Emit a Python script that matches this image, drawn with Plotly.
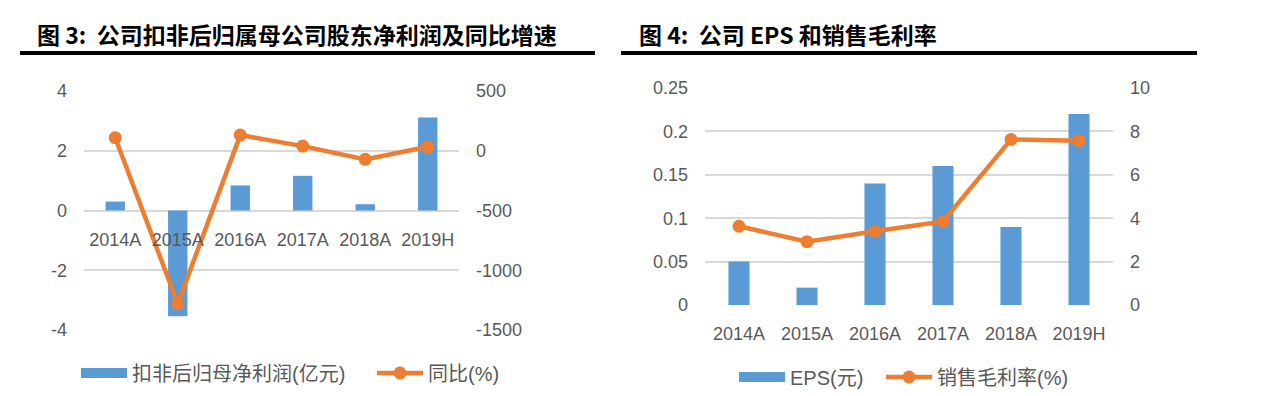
import plotly.graph_objects as go

W, H = 1267, 396
OFF = 8  # page body margin of the browser

# ---------------- data ----------------
categories = ["2014A", "2015A", "2016A", "2017A", "2018A", "2019H"]
profit_yi = [0.30, -3.54, 0.84, 1.16, 0.21, 3.11]          # 扣非后归母净利润(亿元)
profit_yoy = [109, -1281, 131, 39, -72, 33]                  # 同比(%)
eps_yuan = [0.05, 0.02, 0.14, 0.16, 0.09, 0.22]              # EPS(元)
gross_margin = [3.63, 2.92, 3.40, 3.85, 7.63, 7.57]          # 销售毛利率(%)

left_y_ticks = [-4, -2, 0, 2, 4]
left_y_ticktext = ["-4", "-2", "0", "2", "4"]
left_y2_ticks = [-1500, -1000, -500, 0, 500]
left_y2_ticktext = ["-1500", "-1000", "-500", "0", "500"]
right_y_ticks = [0, 0.05, 0.1, 0.15, 0.2, 0.25]
right_y_ticktext = ["0", "0.05", "0.1", "0.15", "0.2", "0.25"]
right_y2_ticks = [0, 2, 4, 6, 8, 10]
right_y2_ticktext = ["0", "2", "4", "6", "8", "10"]

title_left = "图 3:  公司扣非后归属母公司股东净利润及同比增速"
title_right = "图 4:  公司 EPS 和销售毛利率"
name_profit = "扣非后归母净利润(亿元)"
name_yoy = "同比(%)"
name_eps = "EPS(元)"
name_gm = "销售毛利率(%)"

left_y_range = [-4, 4]
left_y2_range = [-1500, 500]
right_y_range = [0, 0.25]
right_y2_range = [0, 10]

# ---------------- styles ----------------
BLUE = "#5B9BD5"
ORANGE = "#ED7D31"
GRID = "#D9D9D9"
TXT = "#595959"
LAT = "Liberation Sans, Arial, sans-serif"
CJK = "Liberation Sans, Noto Sans CJK SC, sans-serif"


def px_x(p):
    return (p - OFF) / W


def px_y(p):
    return 1 - (p - OFF) / H


# plot-area geometry (pixels in the screenshot)
L_X0, L_X1, L_YT, L_YB = 84, 459, 91, 330
R_X0, R_X1, R_YT, R_YB = 705, 1113, 88, 305

left_ydom = [px_y(L_YB), px_y(L_YT)]
right_ydom = [px_y(R_YB), px_y(R_YT)]
# x-axis of left chart sits on the zero line of its bar axis
zero_frac = (0 - left_y_range[0]) / (left_y_range[1] - left_y_range[0])
left_x_pos = left_ydom[0] + zero_frac * (left_ydom[1] - left_ydom[0])

fig = go.Figure()

fig.add_trace(go.Bar(x=categories, y=profit_yi, marker_color=BLUE, name=name_profit,
                     xaxis="x", yaxis="y", showlegend=False))
fig.add_trace(go.Scatter(x=[None], y=[None], mode="lines", name=name_profit,
                         line=dict(color=BLUE, width=10), xaxis="x", yaxis="y", legend="legend"))
fig.add_trace(go.Scatter(x=categories, y=profit_yoy, mode="lines+markers", name=name_yoy,
                         line=dict(color=ORANGE, width=4.5), marker=dict(color=ORANGE, size=13),
                         xaxis="x", yaxis="y2", legend="legend3"))

fig.add_trace(go.Bar(x=categories, y=eps_yuan, marker_color=BLUE, name=name_eps,
                     xaxis="x2", yaxis="y3", showlegend=False))
fig.add_trace(go.Scatter(x=[None], y=[None], mode="lines", name=name_eps,
                         line=dict(color=BLUE, width=10), xaxis="x2", yaxis="y3", legend="legend2"))
fig.add_trace(go.Scatter(x=categories, y=gross_margin, mode="lines+markers", name=name_gm,
                         line=dict(color=ORANGE, width=4.5), marker=dict(color=ORANGE, size=13),
                         xaxis="x2", yaxis="y4", legend="legend4"))

tickfont = dict(family=LAT, size=18, color=TXT)
common = dict(automargin=False, showline=False, zeroline=False, ticks="",
              tickfont=tickfont, ticklabelstandoff=16, fixedrange=True)
legfont = dict(family=CJK, size=20, color=TXT)


def leg(x_px, y_px, iw):
    return dict(orientation="h", xref="container", yref="container",
                x=px_x(x_px), y=px_y(y_px), xanchor="left", yanchor="middle",
                itemwidth=iw, font=legfont, bgcolor="rgba(0,0,0,0)")


fig.update_layout(
    template="none",
    width=W, height=H,
    margin=dict(l=0, r=0, t=0, b=0, autoexpand=False),
    paper_bgcolor="white", plot_bgcolor="rgba(0,0,0,0)",
    bargap=0.69,
    xaxis=dict(domain=[px_x(L_X0), px_x(L_X1)], anchor="free", position=left_x_pos,
               showgrid=False, **common),
    yaxis=dict(domain=left_ydom, anchor="x", range=left_y_range,
               tickvals=left_y_ticks, ticktext=left_y_ticktext,
               showgrid=True, gridcolor=GRID, gridwidth=1.5, **common),
    yaxis2=dict(overlaying="y", anchor="x", side="right", range=left_y2_range,
                tickvals=left_y2_ticks, ticktext=left_y2_ticktext, showgrid=False, **common),
    xaxis2=dict(domain=[px_x(R_X0), px_x(R_X1)], anchor="y3", showgrid=False, **common),
    yaxis3=dict(domain=right_ydom, anchor="x2", range=right_y_range,
                tickvals=right_y_ticks, ticktext=right_y_ticktext,
                showgrid=True, gridcolor=GRID, gridwidth=1.5, **common),
    yaxis4=dict(overlaying="y3", anchor="x2", side="right", range=right_y2_range,
                tickvals=right_y2_ticks, ticktext=right_y2_ticktext, showgrid=False, **common),
    legend=leg(76, 373, 46),
    legend3=leg(372, 373, 46),
    legend2=leg(734, 377, 46),
    legend4=leg(881, 377, 46),
    showlegend=True,
)

# titles and thick underlines
for txt, x0 in ((title_left, 35), (title_right, 637)):
    fig.add_annotation(text="<b>" + txt + "</b>", xref="paper", yref="paper",
                       x=px_x(x0), y=px_y(34), xanchor="left", yanchor="middle",
                       showarrow=False, font=dict(family="Noto Sans CJK SC, sans-serif", size=23, color="black"))
for x0, x1 in ((20, 595), (621, 1197)):
    fig.add_shape(type="rect", xref="paper", yref="paper", x0=px_x(x0), x1=px_x(x1),
                  y0=px_y(55), y1=px_y(51), fillcolor="black", line=dict(width=0))

fig.write_html("out.html")
